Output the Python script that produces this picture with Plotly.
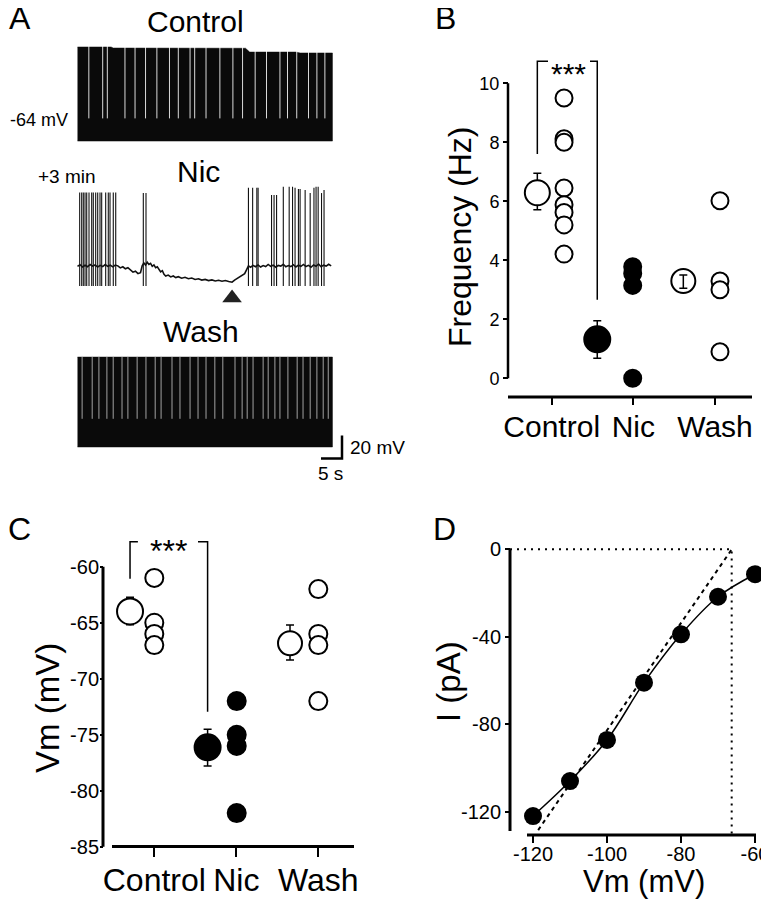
import plotly.graph_objects as go

# the page body keeps its default 8px margin, so the figure is laid out 8px in
OX, OY = 8, 8
W, H = 761, 892
FONT = "Liberation Sans, Arial, sans-serif"

# ---------------- data ----------------
groups = ["Control", "Nic", "Wash"]

# A: example recordings (time in s, membrane potential in mV)
ctrl_top_t = [0, 8.0, 8.5, 30.0, 40.0, 41.0, 52.0, 53.0, 60.7]
ctrl_top_v = [2.1, 2.1, 1.2, 1.2, 1.0, -2.3, -2.3, -3.1, -3.1]
ctrl_bottom_v = -79.7
ctrl_gap_t = [2.7, 6.0, 7.1, 11.3, 13.7, 16.2, 18.9, 21.9, 24.0, 26.8, 27.9, 30.6,
              33.9, 37.0, 39.3, 42.3, 45.0, 48.2, 50.0, 52.2, 55.0, 57.0, 58.9]
ctrl_gap_low = -60.0

wash_top_t = [0, 60.7]
wash_top_v = [-2.3, -2.3]
wash_bottom_v = -80.5
wash_gap_t = [1.1, 3.5, 5.1, 7.0, 8.5, 10.6, 12.0, 14.2, 16.3, 18.5, 19.9, 22.5, 24.4,
              26.8, 28.7, 30.6, 32.7, 34.6, 37.5, 39.2, 40.4, 41.8, 44.2, 45.4, 47.0,
              48.2, 50.1, 52.3, 53.7, 55.4, 57.0, 58.5, 59.7]
wash_gap_low = -56.0

nic_base_t = [0.0, 0.6, 1.2, 1.8, 2.4, 3.0, 3.6, 4.2, 4.8, 5.4, 6.0, 6.6, 7.2, 7.8, 8.4,
              9.0, 9.6, 10.2, 10.8, 11.4, 12.0, 12.6, 13.2, 13.8, 14.4, 15.0, 15.4, 15.8,
              16.2, 16.6, 17.0, 17.4, 17.8, 18.2, 18.6, 19.0, 19.4, 19.8, 20.2, 20.6, 21.0,
              21.6, 22.2, 22.8, 23.4, 24.0, 24.8, 25.6, 26.4, 27.2, 28.0, 28.8, 29.6, 30.4,
              31.2, 32.0, 32.8, 33.6, 34.4, 35.2, 36.0, 36.8, 37.4, 38.0, 38.6, 39.2, 39.8,
              40.3, 40.7, 41.2, 41.8, 42.4, 43.0, 43.6, 44.2, 44.8, 45.4, 46.0, 46.6, 47.2,
              47.8, 48.4, 49.0, 49.6, 50.2, 50.8, 51.4, 52.0, 52.6, 53.2, 53.8, 54.4, 55.0,
              55.6, 56.2, 56.8, 57.4, 58.0, 58.6, 59.2, 59.8, 60.4]
nic_base_v = [-63.5, -62.0, -64.0, -62.5, -63.8, -61.8, -63.2, -62.2, -64.0, -62.6, -63.6,
              -61.9, -63.4, -62.4, -63.9, -62.3, -63.0, -64.8, -63.8, -65.6, -64.6, -66.8,
              -68.5, -67.6, -69.8, -69.0, -63.0, -60.5, -62.4, -59.8, -61.8, -60.8, -63.4,
              -62.2, -64.6, -63.8, -66.4, -68.2, -67.2, -70.4, -71.8, -71.0, -72.6, -71.8,
              -73.2, -72.4, -73.8, -73.0, -74.2, -73.6, -74.8, -74.2, -75.4, -74.8, -75.8,
              -75.2, -76.2, -75.6, -76.4, -75.8, -76.6, -77.2, -75.4, -73.8, -72.8, -71.0,
              -69.8, -66.0, -63.0, -64.2, -62.6, -63.8, -62.2, -64.0, -62.8, -63.6, -61.8,
              -63.4, -62.4, -64.2, -62.6, -63.2, -61.6, -63.8, -62.8, -63.6, -62.0, -64.0,
              -62.4, -63.4, -61.8, -63.6, -62.6, -64.2, -62.2, -63.4, -61.4, -63.8, -62.4,
              -63.2, -61.6, -63.0]
nic_spike_t = [0.52, 1.0, 1.38, 1.79, 2.19, 2.74, 3.38, 3.76, 4.33, 4.81, 5.36, 5.76, 6.71,
               7.33, 7.74, 8.52, 9.1, 15.67, 16.31,
               40.7, 41.7, 42.7, 43.0, 46.2, 46.8, 47.4, 49.0, 50.4, 51.2, 51.8, 52.6, 53.0,
               54.2, 55.4, 56.3, 56.8, 57.3, 58.1, 58.7]
nic_spike_peak = [0.8] * 17 + [0.3, 0.3,
                  4.9, 4.9, 4.9, 4.9, -1.4, -1.4, -1.4, 5.8, 5.8, 5.8, 4.9, 3.8, 3.8,
                  3.0, 0.3, 4.9, 5.8, 5.8, 0.3, 3.0]
nic_spike_trough = -80.5
nic_arrow_t = 36.8

scalebar_mv = 20
scalebar_s = 5

# B: firing frequency (Hz)
b_mean = [6.29, 1.32, 3.30]
b_mean_up = [0.66, 0.63, 0.20]
b_mean_dn = [0.58, 0.64, 0.25]
b_mean_pos = [0.824, 1.558, 2.612]
b_ctrl = [9.50, 8.12, 8.00, 6.45, 5.88, 5.62, 5.20, 4.21]
b_nic = [3.78, 3.55, 3.15, 0.0]
b_wash = [6.02, 3.30, 3.00, 0.90]
b_ind_pos = [1.151, 1.992, 3.061]
b_bracket_y = [7.6, 10.75, 2.66]
b_bracket_gap = [0.955, 1.469]

# C: membrane potential (mV)
c_mean = [-63.99, -76.13, -66.84]
c_mean_up = [1.26, 1.61, 1.64]
c_mean_dn = [1.19, 1.67, 1.49]
c_mean_pos = [0.704, 1.650, 2.655]
c_ctrl = [-61.0, -65.0, -66.0, -67.0]
c_nic = [-72.0, -75.0, -76.0, -82.0]
c_wash = [-62.0, -66.0, -67.0, -72.0]
c_ind_pos = [1.0, 2.005, 3.0]
c_bracket_y = [-61.07, -57.77, -72.95]
c_bracket_gap = [0.80, 1.533]

# D: I-V relation
d_vm = [-120, -110, -100, -90, -80, -70, -60]
d_i = [-122.0, -106.0, -87.2, -61.0, -38.9, -21.7, -11.4]
d_fit_vm = [-118.6, -65.9]
d_fit_i = [-128.4, 0.9]
d_rev = -66.3

b_ticks = [0, 2, 4, 6, 8, 10]
c_ticks = [-60, -65, -70, -75, -80, -85]
d_xticks = [-120, -100, -80, -60]
d_yticks = [0, -40, -80, -120]


# ---------------- pixel helpers (page pixels) ----------------
def fx(p):
    return (p - OX) / W


def fy(p):
    return 1 - (p - OY) / H


def lin(p, ref):
    p0, v0, p1, v1 = ref
    return v0 + (p - p0) * (v1 - v0) / (p1 - p0)


def xdom(a, b, ref):
    return dict(domain=[fx(a), fx(b)], range=[lin(a, ref), lin(b, ref)])


def ydom(top, bottom, ref):
    return dict(domain=[fy(bottom), fy(top)], range=[lin(bottom, ref), lin(top, ref)])


def ax_style(size, ticklen, width, vals, text=None, standoff=0, **kw):
    d = dict(showgrid=False, zeroline=False, showline=False, ticks="outside",
             ticklen=ticklen, tickwidth=width, tickcolor="black", anchor="free",
             tickmode="array", tickvals=vals,
             ticktext=text if text else [str(v) for v in vals],
             ticklabelstandoff=standoff, ticklabeloverflow="allow",
             tickfont=dict(family=FONT, size=size, color="black"))
    d.update(kw)
    return d


# pixel <-> value references (px, value, px, value)
BX = (551.7, 1, 633.35, 2)
BY = (378.3, 0, 83.3, 10)
CX = (154.3, 1, 236.3, 2)
CY = (566.7, -60, 846.7, -85)
DX = (533, -120, 755, -60)
DY = (549.3, 0, 811.7, -120)
AX = (77.5, 0, 119.5, 10)
AY_C = (123, -64, 100, -44)
AY_N = (267, -64, 244, -44)
AY_W = (428, -64, 405, -44)

fig = go.Figure()


def segs(ts, lo, hi):
    xs, ys = [], []
    for t, h in zip(ts, hi):
        xs += [t, t, None]
        ys += [lo, h, None]
    return xs, ys


def line(x, y, xa, ya, width=2, dash=None, shape="linear"):
    fig.add_trace(go.Scatter(x=x, y=y, mode="lines", xaxis=xa, yaxis=ya, showlegend=False,
                             hoverinfo="skip",
                             line=dict(color="black", width=width, dash=dash, shape=shape)))


# ---- panel A ----
fig.add_trace(go.Scatter(x=ctrl_top_t + [ctrl_top_t[-1], 0],
                         y=ctrl_top_v + [ctrl_bottom_v, ctrl_bottom_v],
                         fill="toself", fillcolor="#0a0a0a", mode="lines",
                         line=dict(width=0.5, color="#0a0a0a"),
                         xaxis="x4", yaxis="y4", showlegend=False))
gx, gy = segs(ctrl_gap_t, ctrl_gap_low, [max(ctrl_top_v) + 1] * len(ctrl_gap_t))
fig.add_trace(go.Scatter(x=gx, y=gy, mode="lines", line=dict(color="rgba(255,255,255,0.85)", width=1),
                         xaxis="x4", yaxis="y4", showlegend=False))

sx, sy = segs(nic_spike_t, nic_spike_trough, nic_spike_peak)
fig.add_trace(go.Scatter(x=sx, y=sy, mode="lines", line=dict(color="#111", width=1.1),
                         xaxis="x4", yaxis="y5", showlegend=False))
fig.add_trace(go.Scatter(x=nic_base_t, y=nic_base_v, mode="lines", line=dict(color="#111", width=1.6),
                         xaxis="x4", yaxis="y5", showlegend=False))
fig.add_trace(go.Scatter(x=[nic_arrow_t], y=[lin(298, AY_N)], mode="markers", cliponaxis=False,
                         marker=dict(symbol="triangle-up", size=17, color="#222"),
                         xaxis="x4", yaxis="y5", showlegend=False))

fig.add_trace(go.Scatter(x=wash_top_t + [wash_top_t[-1], 0],
                         y=wash_top_v + [wash_bottom_v, wash_bottom_v],
                         fill="toself", fillcolor="#0a0a0a", mode="lines",
                         line=dict(width=0.5, color="#0a0a0a"),
                         xaxis="x4", yaxis="y6", showlegend=False))
gx, gy = segs(wash_gap_t, wash_gap_low, [max(wash_top_v) + 1] * len(wash_gap_t))
fig.add_trace(go.Scatter(x=gx, y=gy, mode="lines", line=dict(color="rgba(200,200,200,0.8)", width=1),
                         xaxis="x4", yaxis="y6", showlegend=False))
# scale bar
sb_t = lin(342, AX)
sb_v = lin(458.5, AY_W)
line([sb_t - scalebar_s, sb_t, sb_t], [sb_v, sb_v, sb_v + scalebar_mv], "x4", "y6", width=2.5)


# ---- panels B and C (scatter with mean +- SEM) ----
def group_panel(xa, ya, mean, up, dn, mpos, inds, ipos, sizes, isize, mfill):
    fig.add_trace(go.Scatter(
        x=mpos, y=mean, mode="markers", xaxis=xa, yaxis=ya, showlegend=False, cliponaxis=False,
        error_y=dict(type="data", symmetric=False, array=up, arrayminus=dn,
                     color="black", thickness=1.5, width=4),
        marker=dict(size=sizes, color=mfill, opacity=1, line=dict(color="black", width=2))))
    fills = ["white", "black", "white"]
    for vals, p, f in zip(inds, ipos, fills):
        fig.add_trace(go.Scatter(
            x=[p] * len(vals), y=vals, mode="markers", xaxis=xa, yaxis=ya, showlegend=False,
            cliponaxis=False,
            marker=dict(size=isize, color=f, opacity=1, line=dict(color="black", width=2))))


group_panel("x", "y", b_mean, b_mean_up, b_mean_dn, b_mean_pos, [b_ctrl, b_nic, b_wash],
            b_ind_pos, [25, 26, 24], 17, ["white", "black", "rgba(0,0,0,0)"])
group_panel("x2", "y2", c_mean, c_mean_up, c_mean_dn, c_mean_pos, [c_ctrl, c_nic, c_wash],
            c_ind_pos, [26, 26, 24], 18, ["white", "black", "white"])

# axis lines B
bx0 = lin(508, BX)
line([bx0, bx0], [0, 10], "x", "y", width=2.5)
line([bx0, lin(752, BX)], [lin(397, BY)] * 2, "x", "y", width=3)
# bracket B
line([b_mean_pos[0], b_mean_pos[0], b_bracket_gap[0], None, b_bracket_gap[1], b_mean_pos[1], b_mean_pos[1]],
     [b_bracket_y[0], b_bracket_y[1], b_bracket_y[1], None, b_bracket_y[1], b_bracket_y[1], b_bracket_y[2]],
     "x", "y", width=1.5)

# axis lines C
cx0 = lin(103, CX)
line([cx0, cx0], [-60, -85], "x2", "y2", width=3)
line([lin(112, CX), lin(354, CX)], [lin(846.5, CY)] * 2, "x2", "y2", width=3)
line([c_mean_pos[0], c_mean_pos[0], c_bracket_gap[0], None, c_bracket_gap[1], c_mean_pos[1], c_mean_pos[1]],
     [c_bracket_y[0], c_bracket_y[1], c_bracket_y[1], None, c_bracket_y[1], c_bracket_y[1], c_bracket_y[2]],
     "x2", "y2", width=1.5)

# ---- panel D ----
dx0 = lin(510, DX)
dyb = lin(835, DY)
line([dx0, d_rev, d_rev], [0, 0, dyb], "x3", "y3", width=2, dash="2px,5px")
line(d_fit_vm, d_fit_i, "x3", "y3", width=2, dash="4px,4px")
line(d_vm, d_i, "x3", "y3", width=1.5, shape="spline")
fig.add_trace(go.Scatter(x=d_vm, y=d_i, mode="markers", xaxis="x3", yaxis="y3", showlegend=False,
                         cliponaxis=False, marker=dict(size=18, color="black", opacity=1)))
line([dx0, dx0], [0, lin(831, DY)], "x3", "y3", width=3)
line([lin(527, DX), lin(756, DX)], [dyb, dyb], "x3", "y3", width=3)


# ---------------- layout ----------------
hidden = dict(visible=False, showgrid=False, zeroline=False)

layout = dict(
    width=W, height=H, autosize=False, margin=dict(l=0, r=0, t=0, b=0),
    paper_bgcolor="white", plot_bgcolor="rgba(0,0,0,0)", showlegend=False,
    font=dict(family=FONT, color="black"),
    xaxis=dict(**xdom(495, 768, BX), **ax_style(30, 7, 2, [1, 2, 3], groups, -4,
               position=fy(397), side="bottom")),
    yaxis=dict(**ydom(45, 415, BY), **ax_style(18, 5, 1.5, b_ticks, position=fx(508), side="left")),
    xaxis2=dict(**xdom(88, 366, CX), **ax_style(32, 9, 2, [1, 2, 3], groups, -4,
                position=fy(846.5), side="bottom")),
    yaxis2=dict(**ydom(520, 866, CY), **ax_style(20, 3, 1.5, c_ticks, standoff=-3,
                position=fx(103), side="left")),
    xaxis3=dict(**xdom(503, 768, DX), **ax_style(20, 7, 2, d_xticks, standoff=-6,
                position=fy(835), side="bottom")),
    yaxis3=dict(**ydom(535, 848, DY), **ax_style(20, 5, 1.5, d_yticks, position=fx(510), side="left")),
    xaxis4=dict(**xdom(66, 352, AX), **hidden, anchor="y4"),
    yaxis4=dict(**ydom(38, 152, AY_C), **hidden, anchor="x4"),
    yaxis5=dict(**ydom(180, 315, AY_N), **hidden, anchor="x4"),
    yaxis6=dict(**ydom(348, 466, AY_W), **hidden, anchor="x4"),
)
fig.update_layout(**layout)


def txt(s, x, y, size, xanchor="center", angle=0):
    fig.add_annotation(text=s, x=fx(x), y=fy(y), xref="paper", yref="paper", showarrow=False,
                       xanchor=xanchor, yanchor="middle", textangle=angle,
                       font=dict(family=FONT, size=size, color="black"))


# panel letters
txt("A", 20, 18.5, 32)
txt("B", 445, 17.5, 32)
txt("C", 19, 529, 32)
txt("D", 444, 529, 32)
# panel A labels
txt("Control", 195, 21.5, 30)
txt("Nic", 198.5, 171, 30)
txt("Wash", 201, 331.5, 30)
txt("-64 mV", 8, 120, 18, xanchor="left")
txt("+3 min", 67.5, 176, 19)
txt("20 mV", 348, 447, 19, xanchor="left")
txt("5 s", 330, 474, 19)
# axis titles
txt("Frequency (Hz)", 460, 237, 32, angle=-90)
txt("Vm (mV)", 47, 708, 33, angle=-90)
txt("I (pA)", 448, 682, 33, angle=-90)
txt("Vm (mV)", 644, 881, 31)
# significance stars
txt("***", 568, 74, 30)
txt("***", 168, 551, 32)

fig.write_html("out.html")
